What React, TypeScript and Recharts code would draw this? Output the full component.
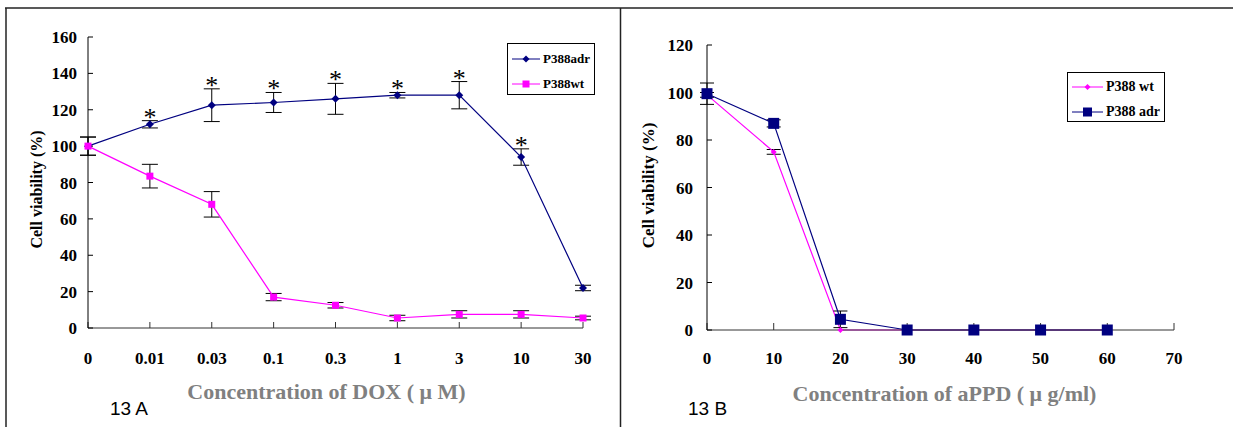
import React from "react";
import { ErrorBar, Label, LabelList, Legend, Line, LineChart, XAxis, YAxis } from "recharts";

const NAVY = "#000080";
const MAGENTA = "#ff00ff";
const SERIF = '"Liberation Serif", "Times New Roman", serif';
const SANS = '"Liberation Sans", Arial, sans-serif';

// 13 A: DOX
const doxLabels = ["0", "0.01", "0.03", "0.1", "0.3", "1", "3", "10", "30"];
const doxAdr = [100, 112, 122.5, 124, 126, 128, 128, 94, 22];
const doxAdrErr = [5, 2, 9, 5.5, 8.5, 1.5, 7.5, 4.5, 1.5];
const doxWt = [100, 83.5, 68, 17, 12.5, 5.5, 7.5, 7.5, 5.5];
const doxWtErr = [5, 6.5, 7, 2, 1.5, 1.5, 2, 2, 1];
const doxSignificant = [false, true, true, true, true, true, true, true, false];
const doxYTicks = [0, 20, 40, 60, 80, 100, 120, 140, 160];

// 13 B: aPPD
const appdDoses = [0, 10, 20, 30, 40, 50, 60];
const appdWt = [99, 75, 0, 0, 0, 0, 0];
const appdWtErr = [1, 1, null, null, null, null, null];
const appdAdr = [99.5, 87, 4.5, 0, 0, 0, 0];
const appdAdrErr = [4.5, 1.5, 3.5, null, null, null, null];
const appdXTicks = [0, 10, 20, 30, 40, 50, 60, 70];
const appdYTicks = [0, 20, 40, 60, 80, 100, 120];

const doxData = doxLabels.map((dose, i) => ({
  dose,
  adr: doxAdr[i],
  adrErr: doxAdrErr[i],
  wt: doxWt[i],
  wtErr: doxWtErr[i],
  star: doxSignificant[i] ? doxAdr[i] + doxAdrErr[i] : null,
}));

const appdData = appdDoses.map((dose, i) => ({
  dose,
  wt: appdWt[i],
  wtErr: appdWtErr[i],
  adr: appdAdr[i],
  adrErr: appdAdrErr[i],
}));

type Shape = "diamond" | "square";

function markerPath(shape: Shape, cx: number, cy: number, size: number) {
  const h = size / 2;
  if (shape === "diamond") return `M${cx},${cy - h}L${cx + h},${cy}L${cx},${cy + h}L${cx - h},${cy}Z`;
  return `M${cx - h},${cy - h}H${cx + h}V${cy + h}H${cx - h}Z`;
}

const makeDot = (shape: Shape, size: number, color: string) => (props: any) => {
  const { cx, cy, index } = props;
  if (cx == null || cy == null) return <g key={index} />;
  return <path key={index} d={markerPath(shape, cx, cy, size)} fill={color} />;
};

const tickStyle = { fontFamily: SERIF, fontSize: 17, fontWeight: "bold", fill: "#000" };

const renderStar = (props: any) => {
  const { x, y, value, index } = props;
  if (value == null) return null;
  return (
    <text key={index} x={x} y={y + 5} textAnchor="middle" fontFamily={SERIF} fontSize={26} fill="#000">
      *
    </text>
  );
};

type LegendMarker = { shape: Shape; size: number };

// legend rows follow the order of the markers object (wt before adr in 13 B)
const makeLegend =
  (markers: Record<string, LegendMarker>, fontSize: number, width: number, height: number, lineLen: number, padTop: number) =>
  (props: any) => {
    const payload: any[] = props.payload || [];
    return (
      <div
        style={{
          width,
          height,
          boxSizing: "border-box",
          border: "1px solid #000",
          background: "#fff",
          paddingTop: padTop,
          paddingLeft: 4,
          fontFamily: SERIF,
          fontWeight: "bold",
          fontSize,
          color: "#000",
        }}
      >
        {Object.keys(markers).map((key) => {
          const entry = payload.find((p) => p.dataKey === key);
          if (!entry) return null;
          const m = markers[key];
          return (
            <div key={key} style={{ display: "flex", alignItems: "center", height: 25 }}>
              <svg width={lineLen + 3} height={14}>
                <line x1={0} y1={7} x2={lineLen} y2={7} stroke={entry.color} strokeWidth={1} />
                <path d={markerPath(m.shape, lineLen / 2, 7, m.size)} fill={entry.color} />
              </svg>
              <span style={{ lineHeight: 1 }}>{entry.value}</span>
            </div>
          );
        })}
      </div>
    );
  };

const xTitle = (text: string, dx: number) => (props: any) => {
  const { x, y, width } = props.viewBox;
  return (
    <text x={x + width / 2 + dx} y={y + 71} textAnchor="middle" fontFamily={SERIF} fontSize={22} fontWeight="bold" fill="#808080">
      {text}
    </text>
  );
};

const yTitle = (cx: number, dy: number, fontSize: number) => (props: any) => {
  const { x, y, height } = props.viewBox;
  const px = x + cx;
  const py = y + height / 2 + dy;
  return (
    <text
      x={px}
      y={py}
      transform={`rotate(-90 ${px} ${py})`}
      textAnchor="middle"
      dominantBaseline="central"
      fontFamily={SERIF}
      fontSize={fontSize}
      fontWeight="bold"
      fill="#000"
    >
      Cell viability (%)
    </text>
  );
};

function DoxChart() {
  return (
    <LineChart width={620} height={427} data={doxData} margin={{ top: 37, right: 37, left: 0, bottom: 19 }}>
      <XAxis
        dataKey="dose"
        interval={0}
        height={80}
        tickSize={-6}
        tickMargin={30}
        tick={tickStyle}
        axisLine={{ stroke: "#333" }}
        tickLine={{ stroke: "#333" }}
      >
        <Label content={xTitle("Concentration of DOX ( μ M)", -9)} />
      </XAxis>
      <YAxis
        type="number"
        domain={[0, 160]}
        ticks={doxYTicks}
        width={88}
        tickSize={-5}
        tickMargin={16}
        tick={tickStyle}
        axisLine={{ stroke: "#000" }}
        tickLine={{ stroke: "#000" }}
      >
        <Label content={yTitle(36, 7, 16)} />
      </YAxis>
      <Legend
        layout="vertical"
        align="center"
        verticalAlign="middle"
        wrapperStyle={{ left: 507, top: 43, width: 88 }}
        content={makeLegend({ adr: { shape: "diamond", size: 7 }, wt: { shape: "square", size: 7 } }, 13, 88, 52, 28, 2)}
      />
      <Line
        dataKey="adr"
        name="P388adr"
        stroke={NAVY}
        strokeWidth={1.2}
        dot={makeDot("diamond", 8, NAVY)}
        activeDot={false}
        isAnimationActive={false}
      >
        <ErrorBar dataKey="adrErr" direction="y" width={8} stroke="#000" strokeWidth={1} isAnimationActive={false} />
      </Line>
      <Line
        dataKey="wt"
        name="P388wt"
        stroke={MAGENTA}
        strokeWidth={1.2}
        dot={makeDot("square", 7, MAGENTA)}
        activeDot={false}
        isAnimationActive={false}
      >
        <ErrorBar dataKey="wtErr" direction="y" width={8} stroke="#000" strokeWidth={1} isAnimationActive={false} />
      </Line>
      <Line
        dataKey="star"
        stroke="none"
        dot={false}
        activeDot={false}
        legendType="none"
        isAnimationActive={false}
      >
        <LabelList dataKey="star" content={renderStar} />
      </Line>
    </LineChart>
  );
}

function AppdChart() {
  return (
    <LineChart width={613} height={427} data={appdData} margin={{ top: 45, right: 59, left: 0, bottom: 17 }}>
      <XAxis
        dataKey="dose"
        type="number"
        domain={[0, 70]}
        ticks={appdXTicks}
        interval={0}
        height={80}
        tickSize={-7}
        tickMargin={29}
        tick={tickStyle}
        axisLine={{ stroke: "#333" }}
        tickLine={{ stroke: "#333" }}
      >
        <Label content={xTitle("Concentration of aPPD ( μ g/ml)", 4)} />
      </XAxis>
      <YAxis
        type="number"
        domain={[0, 120]}
        ticks={appdYTicks}
        width={87}
        tickSize={-5}
        tickMargin={19}
        tick={tickStyle}
        axisLine={{ stroke: "#000" }}
        tickLine={{ stroke: "#000" }}
      >
        <Label content={yTitle(28, -2, 17)} />
      </YAxis>
      <Legend
        layout="vertical"
        align="center"
        verticalAlign="middle"
        wrapperStyle={{ left: 447, top: 72, width: 98 }}
        content={makeLegend({ wt: { shape: "diamond", size: 6 }, adr: { shape: "square", size: 9 } }, 14, 98, 50, 31, 1)}
      />
      <Line
        dataKey="wt"
        name="P388 wt"
        stroke={MAGENTA}
        strokeWidth={1.2}
        dot={makeDot("diamond", 6, MAGENTA)}
        activeDot={false}
        isAnimationActive={false}
      >
        <ErrorBar dataKey="wtErr" direction="y" width={7} stroke="#000" strokeWidth={1} isAnimationActive={false} />
      </Line>
      <Line
        dataKey="adr"
        name="P388 adr"
        stroke={NAVY}
        strokeWidth={1.2}
        dot={makeDot("square", 11, NAVY)}
        activeDot={false}
        isAnimationActive={false}
      >
        <ErrorBar dataKey="adrErr" direction="y" width={7} stroke="#000" strokeWidth={1} isAnimationActive={false} />
      </Line>
    </LineChart>
  );
}

export default function App() {
  return (
    <div style={{ position: "absolute", left: 0, top: 0, width: 1233, height: 427, background: "#fff", overflow: "hidden" }}>
      <div style={{ position: "absolute", left: 0, top: 0 }}>
        <DoxChart />
      </div>
      <div style={{ position: "absolute", left: 620, top: 0 }}>
        <AppdChart />
      </div>
      <svg width={1233} height={427} style={{ position: "absolute", left: 0, top: 0, pointerEvents: "none" }}>
        <line x1={5} y1={8} x2={1233} y2={8} stroke="#222" strokeWidth={1.5} />
        <line x1={6} y1={8} x2={6} y2={427} stroke="#222" strokeWidth={1.5} />
        <line x1={620.5} y1={8} x2={620.5} y2={427} stroke="#222" strokeWidth={1.5} />
        <text x={110} y={415} fontFamily={SANS} fontSize={19} fill="#000">13 A</text>
        <text x={688} y={415} fontFamily={SANS} fontSize={19} fill="#000">13 B</text>
      </svg>
    </div>
  );
}
